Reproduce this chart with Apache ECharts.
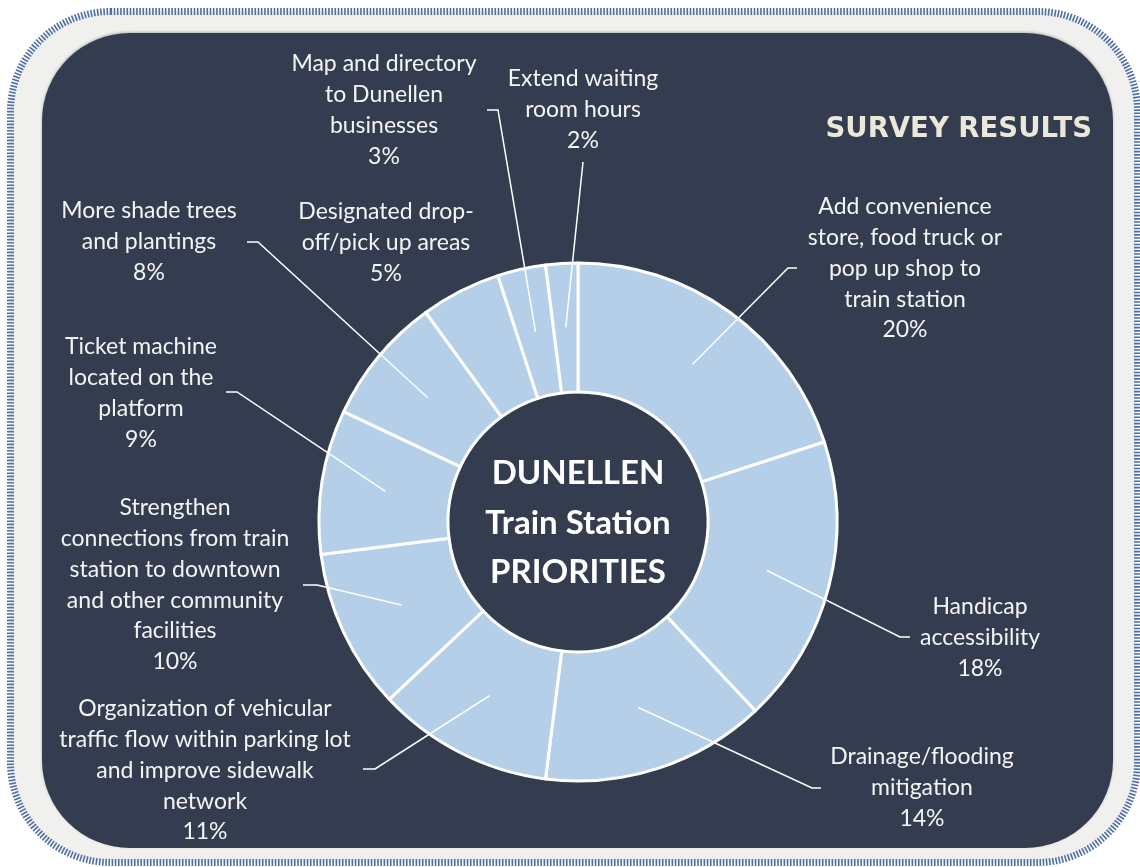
<!DOCTYPE html>
<html>
<head>
<meta charset="utf-8">
<script src="https://cdn.jsdelivr.net/npm/echarts@6/dist/echarts.min.js"></script>
<style>
html,body{margin:0;padding:0;background:#ffffff;}
#chart{width:1140px;height:867px;}
</style>
</head>
<body>
<div id="chart"></div>
<script>
// ---- data ----
const categories = [
  'Add convenience\nstore, food truck or\npop up shop to\ntrain station',
  'Handicap\naccessibility',
  'Drainage/flooding\nmitigation',
  'Organization of vehicular\ntraffic flow within parking lot\nand improve sidewalk\nnetwork',
  'Strengthen\nconnections from train\nstation to downtown\nand other community\nfacilities',
  'Ticket machine\nlocated on the\nplatform',
  'More shade trees\nand plantings',
  'Designated drop-\noff/pick up areas',
  'Map and directory\nto Dunellen\nbusinesses',
  'Extend waiting\nroom hours'
];
const values = [20, 18, 14, 11, 10, 9, 8, 5, 3, 2];
const chartTitle = 'SURVEY RESULTS';
const centerText = 'DUNELLEN\nTrain Station\nPRIORITIES';

// ---- layout (label placement, not data) ----
const CX = 578, CY = 522, R0 = 130, R1 = 259, RLINE = 195;
const LINE_H = 30.7;
// [label centre x, first line centre y]
const labelPos = [
  [905, 207], [980, 607], [922, 757], [205, 709], [175, 508],
  [141, 347], [149, 211], [386, 212], [384, 64], [583, 79]
];
// [elbow, end] of leader lines; null = no line
const leader = [
  [[788, 268], [797, 268]],
  [[900, 637], [910, 637]],
  [[812, 788], [821, 788]],
  [[375, 769], [363, 769]],
  [[317, 585], [303, 585]],
  [[237, 392], [226, 392]],
  [[258, 242], [247, 242]],
  null,
  [[498, 110], [487, 110]],
  [[583, 162], [583, 162]]
];

const LABEL_FONT = 'Lato';
const ringData = categories.map((n, i) => ({ name: n, value: values[i] }));
const labelData = categories.map((n, i) => ({
  name: n,
  value: values[i],
  labelLine: { show: leader[i] !== null }
}));

const chart = echarts.init(document.getElementById('chart'), null, { renderer: 'canvas' });
chart.setOption({
  animation: false,
  backgroundColor: '#ffffff',
  title: {
    text: chartTitle,
    right: 48,
    top: 115,
    padding: 0,
    textStyle: {
      fontFamily: 'DejaVu Sans',
      fontWeight: 'bold',
      fontSize: 27.5,
      lineHeight: 30,
      color: '#ebe8da'
    }
  },
  graphic: [
    {
      type: 'rect', z: -10, silent: true,
      shape: { x: 10.5, y: 11.5, width: 1127, height: 851, r: 100 },
      style: { fill: '#f0f0ee', stroke: '#4f6ea5', lineWidth: 7, lineDash: [1.6, 1.6] }
    },
    {
      type: 'rect', z: -9, silent: true,
      shape: { x: 42, y: 33, width: 1071, height: 815, r: 88 },
      style: { fill: '#343d4f', shadowBlur: 3, shadowColor: 'rgba(0,0,0,0.25)', shadowOffsetY: -1 }
    },
    {
      type: 'text', z: 10, silent: true,
      x: CX, y: CY + 1,
      style: {
        text: centerText,
        align: 'center', verticalAlign: 'middle',
        textAlign: 'center', textVerticalAlign: 'middle',
        fill: '#ffffff',
        font: 'bold 33px Lato',
        lineHeight: 49.5
      }
    }
  ],
  series: [
    {
      type: 'pie',
      z: 2,
      center: [CX, CY],
      radius: [R0, R1],
      startAngle: 90,
      clockwise: true,
      silent: true,
      emphasis: { disabled: true },
      itemStyle: { color: '#b4cfe7', borderColor: '#ffffff', borderWidth: 3 },
      label: { show: false },
      labelLine: { show: false },
      data: ringData
    },
    {
      type: 'pie',
      z: 5,
      center: [CX, CY],
      radius: [R0, R1],
      startAngle: 90,
      clockwise: true,
      silent: true,
      avoidLabelOverlap: false,
      emphasis: { disabled: true },
      itemStyle: { color: 'rgba(0,0,0,0)', borderWidth: 0 },
      label: {
        show: true,
        position: 'outside',
        formatter: '{b}\n{c}%',
        color: '#f4f4f4',
        fontFamily: LABEL_FONT,
        fontSize: 23,
        lineHeight: LINE_H,
        align: 'center'
      },
      labelLine: {
        show: true,
        showAbove: true,
        length: 10,
        length2: 10,
        lineStyle: { color: '#ffffff', width: 1.5 }
      },
      labelLayout: function (p) {
        const i = p.dataIndex;
        const pos = labelPos[i];
        const out = {
          x: pos[0],
          y: pos[1] - LINE_H / 2,
          align: 'center',
          verticalAlign: 'top'
        };
        const L = leader[i];
        if (L && p.labelLinePoints && p.labelLinePoints.length) {
          const p0 = p.labelLinePoints[0];
          const d = Math.hypot(p0[0] - CX, p0[1] - CY) || 1;
          const k = RLINE / d;
          const s = [CX + (p0[0] - CX) * k, CY + (p0[1] - CY) * k];
          out.labelLinePoints = [s, L[0], L[1]];
        }
        return out;
      },
      data: labelData
    }
  ]
});
</script>
</body>
</html>
